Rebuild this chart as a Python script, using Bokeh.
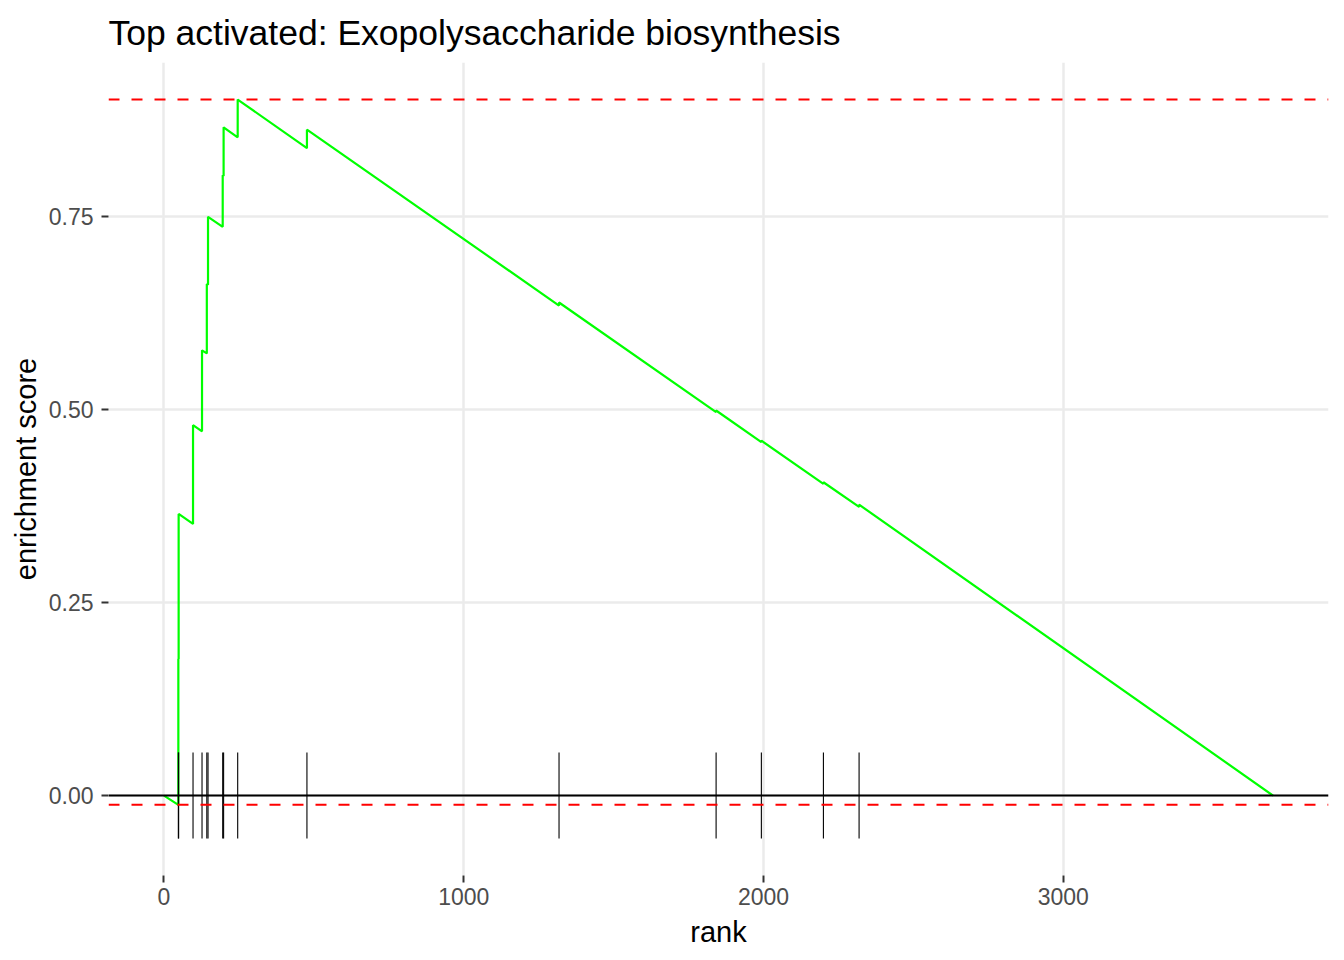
from bokeh.plotting import figure
from bokeh.models import Range1d, Span, FixedTicker, NumeralTickFormatter
from bokeh.embed import file_html
from bokeh.resources import INLINE

# Running enrichment score curve (vertices)
es_rank = [0, 48, 48, 49, 49, 97, 97, 127, 127, 143, 143, 147, 147, 196, 196,
           199, 199, 246, 246, 477, 477, 1318, 1318, 1842, 1842, 1993, 1993,
           2200, 2200, 2319, 2319, 3700]
es_value = [0.000, -0.012, 0.177, 0.177, 0.365, 0.352, 0.480, 0.472, 0.577,
            0.573, 0.663, 0.662, 0.750, 0.737, 0.804, 0.803, 0.866, 0.853,
            0.902, 0.839, 0.863, 0.635, 0.639, 0.497, 0.499, 0.458, 0.460,
            0.404, 0.406, 0.374, 0.377, 0.000]

# Ranks of the gene-set members (tick marks)
hit_ranks = [48, 49, 97, 127, 143, 147, 196, 199, 246, 477, 1318, 1842, 1993,
             2200, 2319]
tick_half = 0.0557

x_ticks = [0, 1000, 2000, 3000]
y_ticks = [0.0, 0.25, 0.50, 0.75]

title_text = "Top activated: Exopolysaccharide biosynthesis"
x_label = "rank"
y_label = "enrichment score"

FONT = "Liberation Sans"

p = figure(width=1344, height=960, output_backend="svg", toolbar_location=None,
           x_range=Range1d(-185, 3885), y_range=Range1d(-0.1036, 0.950),
           min_border_left=108, min_border_right=16, min_border_top=62,
           min_border_bottom=85, title=title_text)

p.outline_line_color = None
p.background_fill_color = "white"
p.border_fill_color = "white"

p.title.text_font = FONT
p.title.text_font_size = "35.5px"
p.title.text_font_style = "normal"
p.title.text_color = "black"
p.title.align = "left"
p.title.standoff = 19

for ax in (p.xaxis[0], p.yaxis[0]):
    ax.axis_line_color = None
    ax.major_tick_line_color = "#333333"
    ax.major_tick_line_width = 2
    ax.major_tick_out = 7
    ax.major_tick_in = 0
    ax.minor_tick_line_color = None
    ax.major_label_text_font = FONT
    ax.major_label_text_font_size = "23px"
    ax.major_label_text_color = "#4D4D4D"
    ax.axis_label_text_font = FONT
    ax.axis_label_text_font_size = "29px"
    ax.axis_label_text_font_style = "normal"
    ax.axis_label_text_color = "black"

p.xaxis[0].major_label_standoff = 5
p.xaxis[0].axis_label_standoff = 8
p.yaxis[0].major_label_standoff = 8
p.yaxis[0].axis_label_standoff = 4

p.xaxis.ticker = FixedTicker(ticks=x_ticks)
p.yaxis.ticker = FixedTicker(ticks=y_ticks)
p.yaxis.formatter = NumeralTickFormatter(format="0.00")
p.xaxis.axis_label = x_label
p.yaxis.axis_label = y_label

p.xgrid.ticker = FixedTicker(ticks=x_ticks)
p.ygrid.ticker = FixedTicker(ticks=y_ticks)
p.grid.grid_line_color = "#EBEBEB"
p.grid.grid_line_width = 2.5
p.grid.minor_grid_line_color = None

# enrichment curve
p.line(es_rank, es_value, line_color="#00FF00", line_width=2.2)

# max / min dashed lines
p.add_layout(Span(location=max(es_value), dimension="width",
                  line_color="#FF0000", line_width=2, line_dash="11 12"))
p.add_layout(Span(location=min(es_value), dimension="width",
                  line_color="#FF0000", line_width=2, line_dash="11 12"))
# zero line
p.add_layout(Span(location=0, dimension="width", line_color="black",
                  line_width=2))

# hit ticks
p.segment(x0=hit_ranks, y0=[-tick_half] * len(hit_ranks),
          x1=hit_ranks, y1=[tick_half] * len(hit_ranks),
          line_color="black", line_width=1.1)

open("out.html", "w").write(file_html(p, INLINE))
